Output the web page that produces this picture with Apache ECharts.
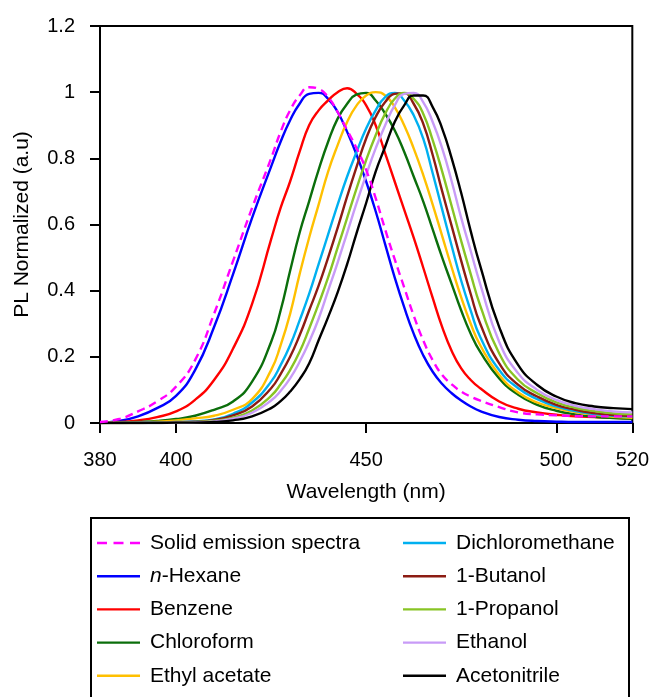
<!DOCTYPE html>
<html>
<head>
<meta charset="utf-8">
<script src="https://cdn.jsdelivr.net/npm/echarts@6/dist/echarts.min.js"></script>
<style>
  html, body { margin: 0; padding: 0; background: #fff; }
  #chart { width: 652px; height: 697px; }
</style>
</head>
<body>
<div id="chart"></div>
<script>
// ---- Data ----
const wavelengths = [380,385,390,395,400,405,410,415,420,425,
  427.5,430,432.5,435,437.5,440,442.5,445,447.5,450,452.5,455,457.5,460,462.5,465,467.5,470,472.5,475,477.5,480,
  485,490,495,500,505,510,515,520];

const seriesNames = ['Solid emission spectra','n-Hexane','Benzene','Chloroform','Ethyl acetate','Dichloromethane','1-Butanol','1-Propanol','Ethanol','Acetonitrile'];

const solidEmission = [0.003,0.012,0.035,0.065,0.11,0.19,0.33,0.49,0.65,0.8,
  0.88,0.945,0.99,1.015,1.01,0.985,0.94,0.885,0.83,0.765,0.68,0.585,0.495,0.41,0.325,0.25,0.19,0.145,0.117,0.095,0.08,0.068,
  0.048,0.032,0.026,0.023,0.021,0.02,0.02,0.02];
const nHexane = [0,0.006,0.02,0.045,0.082,0.16,0.29,0.45,0.62,0.775,
  0.85,0.915,0.965,0.995,0.998,0.98,0.94,0.88,0.81,0.73,0.64,0.54,0.44,0.35,0.27,0.205,0.155,0.118,0.09,0.068,0.05,0.036,
  0.018,0.01,0.006,0.004,0.003,0.003,0.003,0.003];
const benzene = [0,0.003,0.008,0.018,0.035,0.07,0.13,0.225,0.36,0.555,
  0.65,0.73,0.82,0.9,0.945,0.975,1.0,1.012,0.995,0.96,0.9,0.815,0.73,0.645,0.56,0.47,0.378,0.29,0.218,0.165,0.13,0.105,
  0.065,0.043,0.032,0.025,0.02,0.018,0.016,0.015];
const chloroform = [0,0.001,0.003,0.006,0.012,0.022,0.04,0.065,0.125,0.245,
  0.34,0.46,0.575,0.67,0.765,0.85,0.92,0.965,0.993,0.998,0.975,0.935,0.885,0.82,0.745,0.67,0.585,0.5,0.42,0.34,0.27,0.215,
  0.135,0.085,0.055,0.037,0.026,0.019,0.015,0.013];
const ethylAcetate = [0,0,0.002,0.004,0.008,0.014,0.022,0.04,0.072,0.16,
  0.235,0.33,0.45,0.56,0.66,0.76,0.84,0.91,0.96,0.99,1.0,0.99,0.955,0.9,0.83,0.75,0.66,0.565,0.47,0.38,0.3,0.235,
  0.145,0.092,0.062,0.045,0.033,0.025,0.019,0.016];
const dichloromethane = [0,0,0.001,0.002,0.003,0.005,0.011,0.028,0.062,0.125,
  0.175,0.235,0.31,0.39,0.48,0.57,0.66,0.745,0.82,0.89,0.945,0.985,0.998,0.975,0.93,0.86,0.755,0.645,0.535,0.43,0.34,0.26,
  0.16,0.105,0.072,0.05,0.036,0.027,0.022,0.02];
const butanol1 = [0,0,0,0.001,0.002,0.004,0.009,0.023,0.05,0.105,
  0.148,0.2,0.265,0.34,0.415,0.5,0.59,0.685,0.775,0.86,0.925,0.97,0.995,0.997,0.965,0.905,0.81,0.7,0.595,0.49,0.39,0.3,
  0.18,0.115,0.08,0.055,0.04,0.03,0.024,0.021];
const propanol1 = [0,0,0,0.001,0.001,0.003,0.007,0.016,0.038,0.082,
  0.117,0.16,0.215,0.285,0.36,0.44,0.53,0.62,0.71,0.795,0.87,0.935,0.98,0.998,0.98,0.935,0.855,0.76,0.655,0.55,0.45,0.355,
  0.21,0.13,0.09,0.062,0.046,0.036,0.029,0.026];
const ethanol = [0,0,0,0,0.001,0.002,0.005,0.013,0.031,0.068,
  0.097,0.135,0.185,0.245,0.315,0.4,0.485,0.575,0.665,0.75,0.83,0.9,0.96,0.995,0.998,0.97,0.91,0.83,0.73,0.62,0.52,0.42,
  0.245,0.15,0.1,0.07,0.052,0.042,0.035,0.032];
const acetonitrile = [0,0,0,0,0.001,0.001,0.003,0.008,0.02,0.045,
  0.066,0.095,0.132,0.18,0.25,0.32,0.395,0.48,0.575,0.665,0.76,0.835,0.91,0.96,0.99,0.99,0.955,0.89,0.8,0.695,0.58,0.475,
  0.29,0.175,0.115,0.08,0.06,0.05,0.045,0.042];

const xTickValues = [380, 400, 450, 500, 520];

// ---- Styles ----
const seriesValues = [solidEmission, nHexane, benzene, chloroform, ethylAcetate, dichloromethane, butanol1, propanol1, ethanol, acetonitrile];
const seriesColors = ['#ff00ff','#0000ff','#ff0000','#0b6e0b','#ffc000','#00b0f0','#8c1c13','#88c425','#c89bf7','#000000'];

const FONT = '"Liberation Sans", Arial, sans-serif';
const DASH_ICON = 'path://M0,0h10v2.4h-10z M16.5,0h10v2.4h-10z M33,0h10v2.4h-10z';

const series = seriesNames.map((name, i) => ({
  name: name,
  type: 'line',
  symbol: 'none',
  smooth: 0.5,
  data: wavelengths.map((w, j) => [w, seriesValues[i][j]]),
  lineStyle: {
    color: seriesColors[i],
    width: 2.4,
    type: i === 0 ? [8, 5] : 'solid'
  },
  itemStyle: { color: seriesColors[i] },
  z: i === 0 ? 3 : 2
}));

const legendText = {
  color: '#000',
  fontFamily: FONT,
  fontSize: 21,
  lineHeight: 22,
  padding: [0, 0, 0, 5],
  rich: { i: { fontStyle: 'italic', fontFamily: FONT, fontSize: 21, color: '#000' } }
};
const legendFormatter = (name) => name === 'n-Hexane' ? '{i|n}-Hexane' : name;
const legendItems = (names) => names.map(n => ({ name: n, icon: n === 'Solid emission spectra' ? DASH_ICON : 'rect' }));

const chart = echarts.init(document.getElementById('chart'), null, { renderer: 'canvas' });
chart.setOption({
  animation: false,
  backgroundColor: '#fff',
  grid: {
    left: 100, right: 18, top: 26, bottom: 274,
    show: true, borderColor: '#000', borderWidth: 2, backgroundColor: 'transparent'
  },
  xAxis: {
    type: 'value',
    min: 380, max: 520,
    name: 'Wavelength (nm)',
    nameLocation: 'middle',
    nameGap: 59,
    nameTextStyle: { color: '#000', fontFamily: FONT, fontSize: 21 },
    axisLine: { show: true, lineStyle: { color: '#000', width: 2 } },
    axisTick: { show: true, inside: false, length: 10, lineStyle: { color: '#000', width: 2 }, customValues: xTickValues },
    axisLabel: { color: '#000', fontFamily: FONT, fontSize: 20, margin: 27, customValues: xTickValues },
    splitLine: { show: false }
  },
  yAxis: {
    type: 'value',
    min: 0, max: 1.2, interval: 0.2,
    name: 'PL Normalized (a.u)',
    nameLocation: 'middle',
    nameGap: 67,
    nameTextStyle: { color: '#000', fontFamily: FONT, fontSize: 21 },
    axisLine: { show: true, lineStyle: { color: '#000', width: 2 } },
    axisTick: { show: true, inside: false, length: 10, lineStyle: { color: '#000', width: 2 } },
    axisLabel: { color: '#000', fontFamily: FONT, fontSize: 20, margin: 25 },
    splitLine: { show: false }
  },
  legend: [
    {
      data: legendItems(seriesNames.slice(0, 5)),
      orient: 'vertical',
      left: 97, top: 532,
      padding: 0,
      itemWidth: 43, itemHeight: 2.4, itemGap: 11.2,
      textStyle: legendText,
      formatter: legendFormatter,
      selectedMode: false
    },
    {
      data: legendItems(seriesNames.slice(5)),
      orient: 'vertical',
      left: 403, top: 532,
      padding: 0,
      itemWidth: 43, itemHeight: 2.4, itemGap: 11.2,
      textStyle: legendText,
      formatter: legendFormatter,
      selectedMode: false
    }
  ],
  graphic: [
    {
      type: 'rect',
      shape: { x: 91, y: 518, width: 538, height: 200 },
      style: { fill: 'none', stroke: '#000', lineWidth: 2 },
      silent: true,
      z: -1
    }
  ],
  series: series
});
</script>
</body>
</html>
